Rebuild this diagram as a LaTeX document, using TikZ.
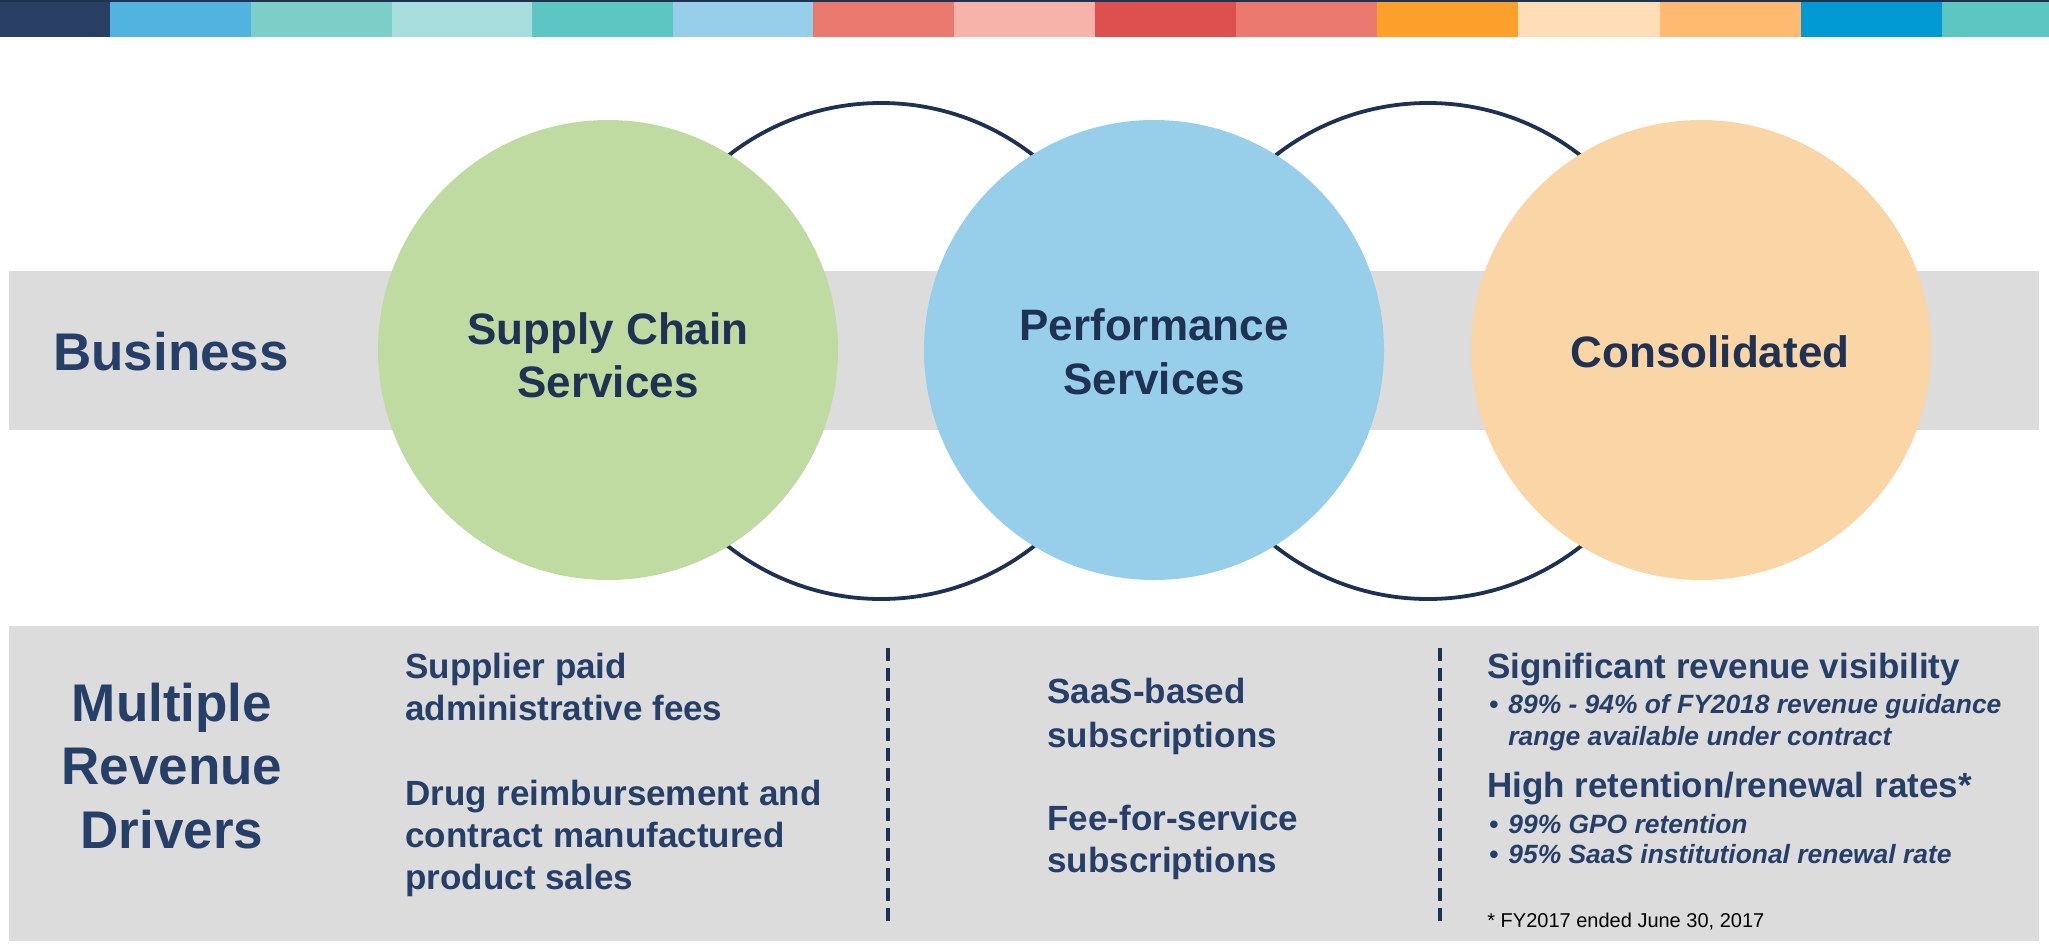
\documentclass[tikz,border=0pt]{standalone}
\usepackage{fontspec}
\setmainfont{Liberation Sans}
\definecolor{bara}{HTML}{283F63}
\definecolor{barb}{HTML}{52B2E0}
\definecolor{barc}{HTML}{7DCDC8}
\definecolor{bard}{HTML}{A8DEDE}
\definecolor{bare}{HTML}{5EC6C2}
\definecolor{barf}{HTML}{97CEEA}
\definecolor{barg}{HTML}{EA7A70}
\definecolor{barh}{HTML}{F7B2AA}
\definecolor{bari}{HTML}{DE504F}
\definecolor{barj}{HTML}{FBA02A}
\definecolor{bark}{HTML}{FFDDB9}
\definecolor{barl}{HTML}{FFB970}
\definecolor{barm}{HTML}{0099D4}
\definecolor{topline}{HTML}{1F3250}
\definecolor{bandgray}{HTML}{DCDCDC}
\definecolor{cgreen}{HTML}{BFDBA2}
\definecolor{cblue}{HTML}{97CFEA}
\definecolor{corange}{HTML}{FAD5A5}
\definecolor{ringcol}{HTML}{1F3152}
\definecolor{navytext}{HTML}{263F68}
\definecolor{circtext}{HTML}{1F3254}
\begin{document}
\begin{tikzpicture}[x=0.5pt,y=-0.5pt,
  bigcirc/.style={circle, inner sep=0pt, outer sep=0pt, minimum size=230pt},
  ringnode/.style={circle, draw=ringcol, line width=1.9pt, inner sep=0pt, minimum size=248pt},
  headtxt/.style={text=navytext, font=\bfseries\fontsize{26.5}{31}\selectfont, inner sep=0pt, anchor=base},
  circtxt/.style={text=circtext, font=\bfseries\fontsize{22}{26}\selectfont, inner sep=0pt, anchor=base},
  bodytxt/.style={text=navytext, font=\bfseries\fontsize{17.5}{21}\selectfont, inner sep=0pt, anchor=base west},
  bultxt/.style={text=navytext, font=\bfseries\itshape\fontsize{13.2}{16}\selectfont, inner sep=0pt, anchor=base west},
  bulmark/.style={text=navytext, font=\bfseries\fontsize{13.2}{16}\selectfont, inner sep=0pt, anchor=base west},
  notetxt/.style={text=black, font=\fontsize{10}{12}\selectfont, inner sep=0pt, anchor=base west},
  sepline/.style={draw=ringcol, line width=1.8pt, dash pattern=on 6.5pt off 3.5pt}
]
\useasboundingbox (0,0) rectangle (2049,948);
% top colour bar
\foreach \a/\b/\c in {0/110/bara,110/251/barb,251/392/barc,392/532/bard,532/673/bare,673/813/barf,813/954/barg,954/1095/barh,1095/1236/bari,1236/1377/barg,1377/1518/barj,1518/1660/bark,1660/1801/barl,1801/1942/barm,1942/2049/bare}
  \fill[\c] (\a,0) rectangle (\b,37);
\fill[topline] (0,0) rectangle (2049,2);
% grey bands
\fill[bandgray] (9,271) rectangle (2039,430);
\fill[bandgray] (9,626) rectangle (2039,941);
% rings
\node[ringnode] (ringa) at (881,351) {};
\node[ringnode] (ringb) at (1428,351) {};
% circles
\node[bigcirc, fill=cgreen] (scs) at (608,350) {};
\node[bigcirc, fill=cblue] (ps) at (1154,350) {};
\node[bigcirc, fill=corange] (cons) at (1701,350) {};
% circle labels
\node[circtxt] (scsa) at (608,344) {Supply Chain};
\node[circtxt] (scsb) at (608,397) {Services};
\node[circtxt] (psa) at (1154,340) {Performance};
\node[circtxt] (psb) at (1154,394) {Services};
\node[circtxt] (consa) at (1710,367) {Consolidated};
% row headings
\node[headtxt] (bus) at (171,370) {Business};
\node[headtxt] (mra) at (172,721) {Multiple};
\node[headtxt] (mrb) at (172,784) {Revenue};
\node[headtxt] (mrc) at (172,848) {Drivers};
% column 1
\node[bodytxt] (ca1) at (405,678) {Supplier paid};
\node[bodytxt] (ca2) at (405,720) {administrative fees};
\node[bodytxt] (ca3) at (405,805) {Drug reimbursement and};
\node[bodytxt] (ca4) at (405,847) {contract manufactured};
\node[bodytxt] (ca5) at (405,889) {product sales};
% column 2
\node[bodytxt] (cb1) at (1047,703) {SaaS-based};
\node[bodytxt] (cb2) at (1047,747) {subscriptions};
\node[bodytxt] (cb3) at (1047,830) {Fee-for-service};
\node[bodytxt] (cb4) at (1047,872) {subscriptions};
% column 3
\node[bodytxt] (cc1) at (1487,678) {Significant revenue visibility};
\node[bulmark] (bm1) at (1489,713) {•};
\node[bultxt] (cc2) at (1508,713) {89\% - 94\% of FY2018 revenue guidance};
\node[bultxt] (cc3) at (1508,745) {range available under contract};
\node[bodytxt] (cc4) at (1487,797) {High retention/renewal rates*};
\node[bulmark] (bm2) at (1489,833) {•};
\node[bultxt] (cc5) at (1508,833) {99\% GPO retention};
\node[bulmark] (bm3) at (1489,863) {•};
\node[bultxt] (cc6) at (1508,863) {95\% SaaS institutional renewal rate};
\node[notetxt] (note) at (1487,927) {* FY2017 ended June 30, 2017};
% separators
\coordinate (sa1) at (888,648);
\coordinate (sa2) at (888,925);
\coordinate (sb1) at (1440,648);
\coordinate (sb2) at (1440,925);
\draw[sepline] (sa1) -- (sa2);
\draw[sepline] (sb1) -- (sb2);
\end{tikzpicture}
\end{document}
